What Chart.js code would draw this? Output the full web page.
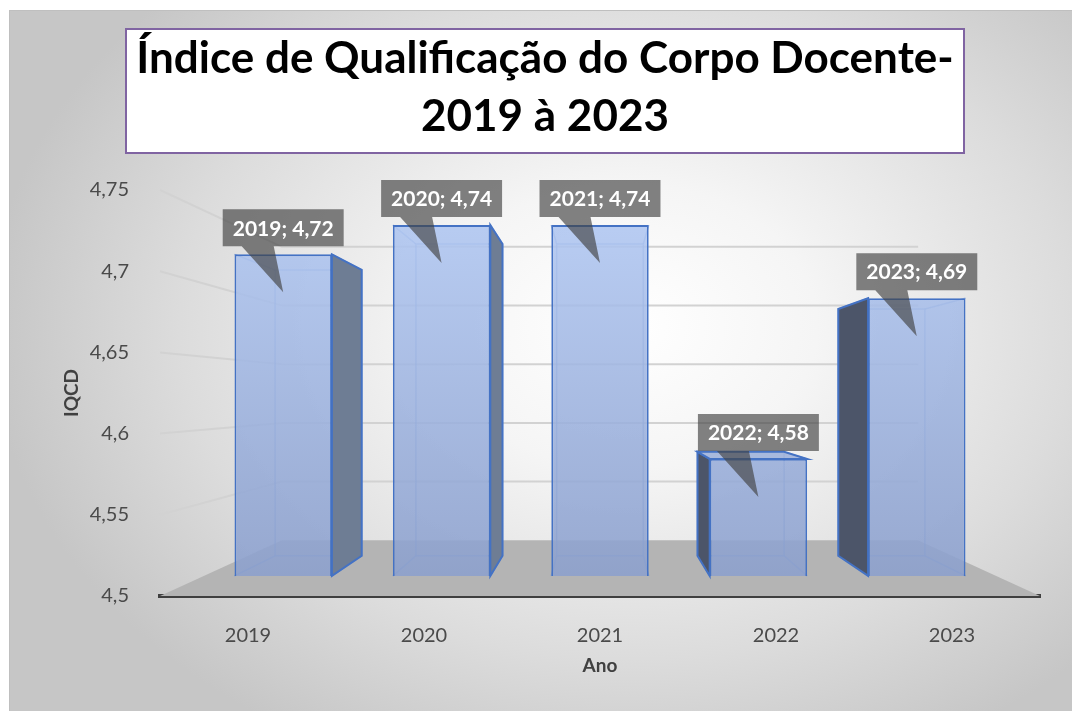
<!DOCTYPE html>
<html>
<head>
<meta charset="utf-8">
<script src="https://cdn.jsdelivr.net/npm/chart.js@4.4.0/dist/chart.umd.min.js"></script>
<style>
body { margin: 0; background: #fff; }
#moldura {
    position: absolute; left: 9px; top: 10px; width: 1063px; height: 701px;
    box-sizing: border-box;
    border-top: 1px solid #bfbfbf; border-left: 1px solid #bfbfbf;
    background: radial-gradient(ellipse 60% 68% at 58% 45%, #ffffff 0%, #f5f5f5 30%, #dcdcdc 70%, #c6c6c6 100%);
}
#grafico { position: absolute; left: 0; top: 0; }
#titulo {
    position: absolute; left: 125px; top: 28px; width: 840px; height: 126px;
    box-sizing: border-box; border: 2px solid #8064a2; background: #fff;
    font: bold 44px Lato; line-height: 58px; text-align: center; color: #000;
}
#titulo div { position: relative; top: -3px; }
</style>
</head>
<body>
<div id="moldura"></div>
<canvas id="grafico" width="1072" height="711"></canvas>
<div id="titulo"><div>Índice de Qualificação do Corpo Docente-<br>2019 à 2023</div></div>

<script>
const anos = ['2019', '2020', '2021', '2022', '2023'];
const iqcd = [4.72, 4.74, 4.74, 4.58, 4.69];
const eixoMin = 4.5;
const eixoMax = 4.75;
const eixoPasso = 0.05;

// perspectiva "3D" do excel: ponto de fuga e profundidades
const VP_Y = 395;
const K_FRENTE = 0.1, K_FUNDO = 0.2, K_PAREDE = 0.277;

function virgula(v) {
    return (Math.round(v * 100) / 100).toString().replace('.', ',');
}

function proj(ca, x, y, k) {
    const vx = (ca.left + ca.right) / 2;
    return [x + (vx - x) * k, y + (VP_Y - y) * k];
}

function poly(ctx, pts) {
    ctx.beginPath();
    ctx.moveTo(pts[0][0], pts[0][1]);
    for (let i = 1; i < pts.length; i++) ctx.lineTo(pts[i][0], pts[i][1]);
    ctx.closePath();
}

const efeito3d = {
    id: 'efeito3d',
    beforeDatasetsDraw(chart) {
        const ctx = chart.ctx;
        const ca = chart.chartArea;
        const vx = (ca.left + ca.right) / 2;

        // piso
        ctx.save();
        ctx.fillStyle = '#b4b4b4';
        poly(ctx, [[ca.left, ca.bottom], [ca.right, ca.bottom],
            proj(ca, ca.right, ca.bottom, K_PAREDE), proj(ca, ca.left, ca.bottom, K_PAREDE)]);
        ctx.fill();

        // linhas de grade (parede lateral + fundo)
        const ys = chart.scales.y;
        ctx.strokeStyle = '#d2d2d2';
        ctx.lineWidth = 2;
        ys.ticks.forEach(t => {
            if (t.value <= eixoMin) return;
            const y = ys.getPixelForValue(t.value);
            const a = proj(ca, ca.left, y, K_PAREDE);
            const b = proj(ca, ca.right, y, K_PAREDE);
            ctx.beginPath();
            ctx.moveTo(ca.left, y);
            ctx.lineTo(a[0], a[1]);
            ctx.lineTo(b[0], b[1]);
            ctx.stroke();
        });

        // faces de tras e laterais das barras
        const meta = chart.getDatasetMeta(0);
        meta.data.forEach(el => {
            const p = el.getProps(['x', 'y', 'base', 'width'], true);
            const base = Math.min(p.base, ca.bottom);
            const l = p.x - p.width / 2, r = p.x + p.width / 2;
            const F = (x, y) => proj(ca, x, y, K_FRENTE);
            const B = (x, y) => proj(ca, x, y, K_FUNDO);

            ctx.strokeStyle = 'rgba(100,140,210,0.6)';
            ctx.lineWidth = 1.5;
            poly(ctx, [B(l, p.y), B(r, p.y), B(r, base), B(l, base)]);
            ctx.stroke();
            [[l, p.y], [r, p.y], [l, base], [r, base]].forEach(c => {
                const f = F(c[0], c[1]), b = B(c[0], c[1]);
                ctx.beginPath();
                ctx.moveTo(f[0], f[1]);
                ctx.lineTo(b[0], b[1]);
                ctx.stroke();
            });

            ctx.strokeStyle = '#4472c4';
            ctx.lineWidth = 2;
            if (r < vx) {
                ctx.fillStyle = '#6e7d94';
                poly(ctx, [F(r, p.y), B(r, p.y), B(r, base), F(r, base)]);
                ctx.fill(); ctx.stroke();
            } else if (l > vx) {
                ctx.fillStyle = '#4c5569';
                poly(ctx, [F(l, p.y), B(l, p.y), B(l, base), F(l, base)]);
                ctx.fill(); ctx.stroke();
            }
            if (p.y > VP_Y) {
                ctx.fillStyle = 'rgba(160,178,218,0.9)';
                poly(ctx, [F(l, p.y), F(r, p.y), B(r, p.y), B(l, p.y)]);
                ctx.fill(); ctx.stroke();
            }
        });
        ctx.restore();

        // a frente das barras e desenhada pelo chart.js ja com a perspectiva
        ctx.save();
        ctx.translate(vx, VP_Y);
        ctx.scale(1 - K_FRENTE, 1 - K_FRENTE);
        ctx.translate(-vx, -VP_Y);
    },
    afterDatasetsDraw(chart) {
        const ctx = chart.ctx;
        ctx.restore();
        const ca = chart.chartArea;
        const meta = chart.getDatasetMeta(0);

        ctx.save();
        ctx.font = 'bold 21px Lato';
        meta.data.forEach((el, i) => {
            const p = el.getProps(['x', 'y'], true);
            const [px, py] = proj(ca, p.x, p.y, K_FRENTE);
            const txt = anos[i] + '; ' + iqcd[i].toFixed(2).replace('.', ',');
            const bw = ctx.measureText(txt).width + 20, bh = 37;
            const bx = px - bw / 2, by = py - 8 - bh;
            ctx.fillStyle = 'rgba(64,64,64,0.65)';
            ctx.beginPath();
            ctx.rect(bx, by, bw, bh);
            ctx.moveTo(bx + 19, by + bh);
            ctx.lineTo(bx + 51, by + bh);
            ctx.lineTo(px, py + 38);
            ctx.closePath();
            ctx.fill();
            ctx.fillStyle = '#ffffff';
            ctx.textAlign = 'center';
            ctx.textBaseline = 'middle';
            ctx.fillText(txt, px, by + bh / 2 + 1);
        });
        ctx.restore();
    }
};

const ctx = document.getElementById('grafico');
new Chart(ctx, {
    type: 'bar',
    data: {
        labels: anos,
        datasets: [{
            label: 'IQCD',
            data: iqcd,
            base: eixoMin,
            backgroundColor: (c) => {
                const ca = c.chart.chartArea;
                if (!ca) return 'rgba(150,172,215,0.85)';
                const g = c.chart.ctx.createLinearGradient(0, ca.top, 0, ca.bottom);
                g.addColorStop(0, 'rgba(176,199,242,0.88)');
                g.addColorStop(1, 'rgba(140,160,205,0.88)');
                return g;
            },
            borderColor: '#4472c4',
            borderWidth: 2,
            barPercentage: 0.615,
            categoryPercentage: 1
        }]
    },
    options: {
        responsive: false,
        animation: false,
        layout: { padding: { left: 60, right: 32, top: 190, bottom: 20 } },
        plugins: {
            legend: { display: false },
            tooltip: { enabled: false }
        },
        scales: {
            x: {
                z: 1,
                grid: { display: false },
                border: { display: true, color: '#3f3f3f', width: 4 },
                ticks: { color: '#4a4a4a', font: { family: 'Lato', size: 20 }, padding: 20 },
                title: { display: true, text: 'Ano', color: '#404040',
                    font: { family: 'Lato', size: 19, weight: 'bold' }, padding: { top: 0, bottom: 14 } },
                afterFit: (s) => { s.height = 95; }
            },
            y: {
                min: eixoMin,
                max: eixoMax,
                grid: { display: false },
                border: { display: false },
                ticks: { stepSize: eixoPasso, color: '#4a4a4a', font: { family: 'Lato', size: 20 },
                    padding: 23, callback: (v) => virgula(v) },
                title: { display: true, text: 'IQCD', color: '#404040',
                    font: { family: 'Lato', size: 19, weight: 'bold' }, padding: { top: 0, bottom: 0 } },
                afterFit: (s) => { s.width = 100; }
            }
        }
    },
    plugins: [efeito3d]
});
</script>
</body>
</html>
